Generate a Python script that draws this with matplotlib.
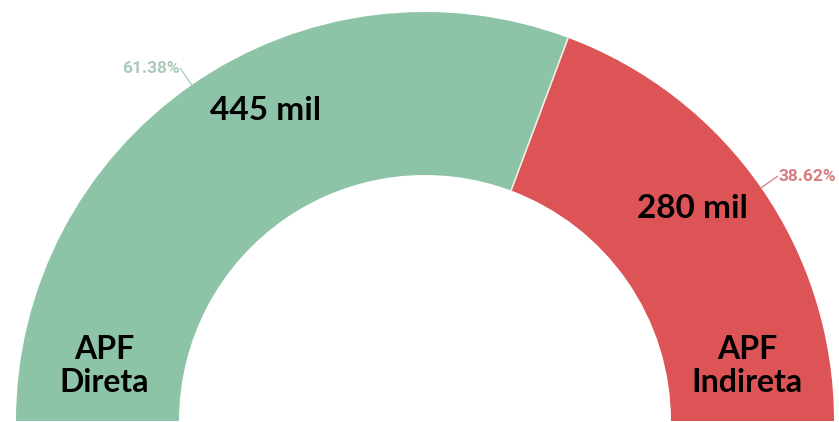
import matplotlib
matplotlib.use("Agg")
import matplotlib.pyplot as plt
import numpy as np

categories = ["APF\nDireta", "APF\nIndireta"]
values = [445, 280]
value_labels = ["445 mil", "280 mil"]
colors = ["#8DC3A7", "#DD5457"]
pct_colors = ["#A9CBB9", "#D77C80"]

W, H = 839, 422
fig = plt.figure(figsize=(W / 100, H / 100), dpi=100)
ax = fig.add_axes([0, 0, 1, 1])

cx, cy = 425, 1
R, r = 409, 246
total = sum(values)
ax.pie(values + [total], colors=colors + ["none"], startangle=180, counterclock=False,
       center=(cx, cy), radius=R, frame=True,
       wedgeprops=dict(width=R - r, edgecolor="none", linewidth=0))

ax.set_xlim(0, W)
ax.set_ylim(0, H)
ax.set_aspect("equal")
ax.axis("off")

# percentage labels with leader lines, and divider
start = 180.0
for i, v in enumerate(values):
    span = 180.0 * v / total
    mid = np.deg2rad(start - span / 2)
    start -= span
    if i < len(values) - 1:
        a = np.deg2rad(start)
        ax.plot([cx + r * np.cos(a), cx + R * np.cos(a)],
                [cy + r * np.sin(a), cy + R * np.sin(a)], color="#EEF0E6", lw=1.2)
    x0, y0 = cx + R * np.cos(mid), cy + R * np.sin(mid)
    x1, y1 = cx + (R + 20) * np.cos(mid), cy + (R + 20) * np.sin(mid)
    ax.plot([x0, x1], [y0, y1], color=pct_colors[i], lw=0.9)
    ha = "right" if np.cos(mid) < 0 else "left"
    ax.text(x1 + (-1 if ha == "right" else 1), y1, f"{100 * v / total:.2f}%",
            ha=ha, va="center", color=pct_colors[i], fontsize=12.5,
            family="Roboto", fontweight="bold")

bold = dict(fontweight="bold", family="Lato", color="black")
ax.text(266, H - 110, value_labels[0], ha="center", va="center", fontsize=24, **bold)
ax.text(692, H - 208, value_labels[1], ha="center", va="center", fontsize=24, **bold)
ax.text(104, H - 366, categories[0], ha="center", va="center", fontsize=23,
        linespacing=1.2, **bold)
ax.text(747, H - 366, categories[1], ha="center", va="center", fontsize=23,
        linespacing=1.2, **bold)

fig.savefig("out.png", dpi=100)
